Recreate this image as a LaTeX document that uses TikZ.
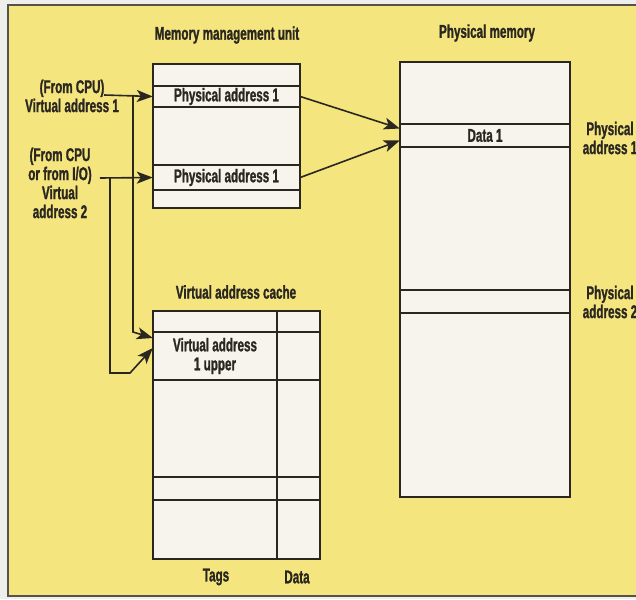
\documentclass[tikz,border=0pt]{standalone}
\usepackage{fontspec}
\setmainfont{Liberation Sans}[FakeStretch=0.63,BoldFeatures={FakeBold=1.2}]
\usetikzlibrary{arrows.meta,positioning}
\definecolor{panel}{HTML}{F4E57E}
\definecolor{cellbg}{HTML}{F6F4EC}
\definecolor{edge}{HTML}{2A2620}
\definecolor{margin}{HTML}{EEEEEA}
\tikzset{
  tbl/.style={draw=edge,line width=1.7pt,fill=cellbg},
  rowline/.style={draw=edge,line width=1.4pt},
  lbl/.style={font=\bfseries\fontsize{18.5}{19}\selectfont,text=edge,align=center,inner sep=0pt},
  cell/.style={lbl,minimum height=21pt},
  ar/.style={-{Stealth[length=16pt,width=12pt,inset=4pt]},line width=1.6pt,draw=edge},
}

\begin{document}
\begin{tikzpicture}[x=1pt,y=-1pt]
  \useasboundingbox (0,0) rectangle (636,599);
  \clip (0,0) rectangle (636,599);
  \fill[margin] (0,0) rectangle (636,599);
  \draw[fill=panel,line width=1.2pt,draw=edge!80] (650,5) -- (8,5) -- (8,596) -- (650,596);

  % memory management unit
  \draw[tbl] (153,64) rectangle (300,208);
  \foreach \y in {86,107,165,190} \draw[rowline] (153,\y) -- (300,\y);
  \node[lbl] (mmut) at (227,35) {Memory management unit};
  \node[cell,minimum width=147pt] (mmua) at (226.5,96.5) {Physical address 1};
  \node[cell,minimum width=147pt] (mmub) at (226.5,177.5) {Physical address 1};

  % physical memory
  \draw[tbl] (400,62) rectangle (570,497);
  \foreach \y in {124,147,290,313} \draw[rowline] (400,\y) -- (570,\y);
  \node[lbl] (pmt) at (487,33) {Physical memory};
  \node[cell,minimum width=170pt,minimum height=23pt] (data1) at (485,135.5) {Data 1};
  \node[lbl] (pa1) at (610,138) {Physical\\address 1};
  \node[lbl] (pa2) at (610,302) {Physical\\address 2};

  % virtual address cache
  \draw[tbl] (153,311) rectangle (320,559);
  \draw[rowline] (277,311) -- (277,559);
  \foreach \y in {332,380,477,500} \draw[rowline] (153,\y) -- (320,\y);
  \node[lbl] (vact) at (236,292) {Virtual address cache};
  \node[cell,minimum width=124pt,minimum height=48pt] (vac1) at (215,356) {Virtual address\\1 upper};
  \node[lbl] (tags) at (216,577) {Tags};
  \node[lbl] (datal) at (297,577) {Data};

  % inputs
  \node[lbl] (va1) at (72,96) {(From CPU)\\Virtual address 1};
  \node[lbl] (va2) at (60,183) {(From CPU\\or from I/O)\\Virtual\\address 2};
  \coordinate (s1) at (104,95);
  \coordinate (j1) at (133,95);
  \coordinate (s2) at (100,178);
  \coordinate (j2) at (110,178);

  \draw[ar] (s1) -- (mmua.west);
  \draw[ar] (s2) -- (mmub.west);
  \draw[ar] (j1) -- ([yshift=24pt]vac1.west -| j1) -- ([yshift=18pt]vac1.west);
  \draw[ar] (j2) -- ([yshift=-17pt]vac1.west -| j2) -- ++(20,0) -- ([yshift=8pt]vac1.west);
  \draw[ar] (mmua.east) -- ([yshift=7pt]data1.west);
  \draw[ar] (mmub.east) -- ([yshift=-5pt]data1.west);
\end{tikzpicture}
\end{document}
